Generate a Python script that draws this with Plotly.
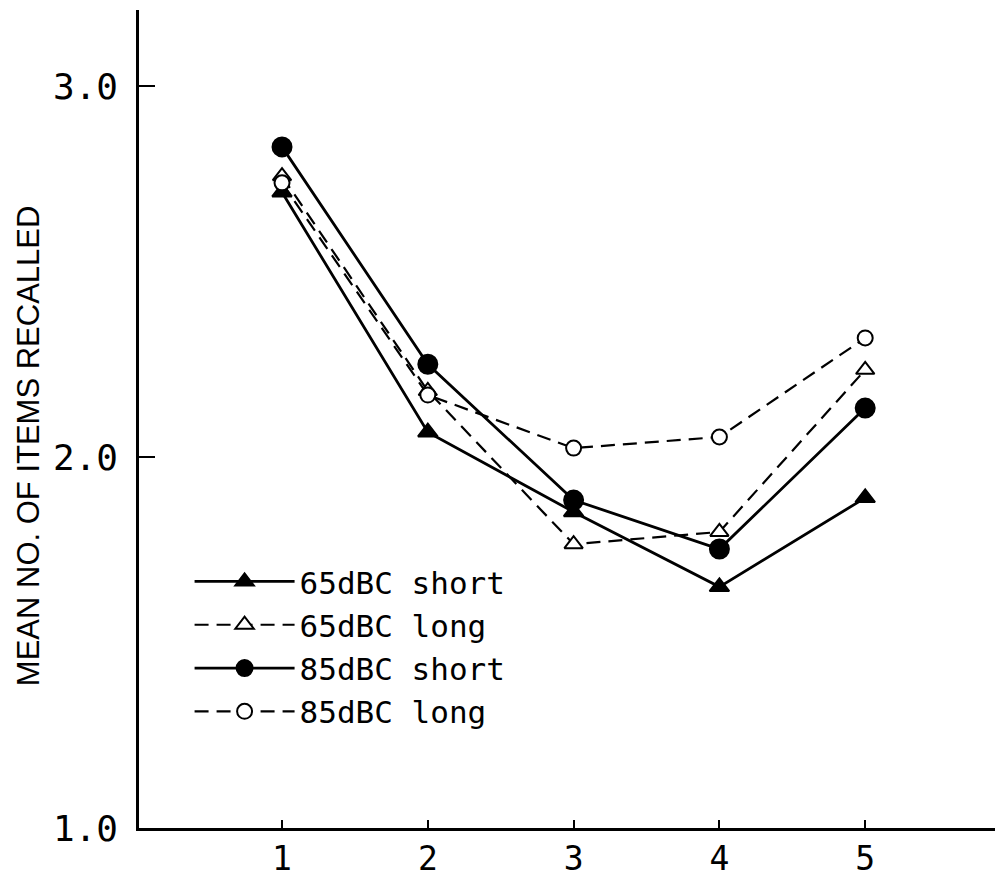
import plotly.graph_objects as go

x_vals = [1, 2, 3, 4, 5]
s65_short = [2.714, 2.067, 1.852, 1.650, 1.890]
s65_long = [2.757, 2.178, 1.765, 1.798, 2.235]
s85_short = [2.836, 2.250, 1.884, 1.752, 2.132]
s85_long = [2.739, 2.167, 2.024, 2.054, 2.321]
names = ["65dBC short", "65dBC long", "85dBC short", "85dBC long"]
y_ticks = [1.0, 2.0, 3.0]
y_tick_text = ["1.0", "2.0", "3.0"]
y_title = "MEAN NO. OF ITEMS RECALLED"

fig = go.Figure()
styles = [
    (s65_short, "solid", "triangle-up", 17, 2.8, "black"),
    (s65_long, "14px,8px", "triangle-up", 16, 2.2, "white"),
    (s85_short, "solid", "circle", 19, 2.8, "black"),
    (s85_long, "14px,8px", "circle", 15, 2.2, "white"),
]
for (vals, dash, sym, ms, lw, fill), nm in zip(styles, names):
    fig.add_trace(go.Scatter(
        x=x_vals, y=vals, name=nm, mode="lines+markers",
        line=dict(color="black", width=lw, dash=dash),
        marker=dict(symbol=sym, size=ms, color=fill,
                    line=dict(color="black", width=2)),
    ))

fig.update_layout(
    width=1003, height=882,
    margin=dict(l=131, r=0, t=2, b=62, autoexpand=False),
    paper_bgcolor="white", plot_bgcolor="white",
    font=dict(family="DejaVu Sans Mono", color="black", size=31),
    legend=dict(x=0.058, y=0.334, xanchor="left", yanchor="top",
                bgcolor="rgba(0,0,0,0)", font=dict(size=31),
                itemwidth=100, tracegroupgap=0),
    showlegend=True,
    annotations=[dict(
        text=y_title, xref="paper", yref="paper", x=-0.1273, y=0.468,
        xanchor="center", yanchor="middle", textangle=-90, showarrow=False,
        font=dict(family="Liberation Sans", size=31, color="black"),
    )],
)
fig.update_xaxes(
    range=[0.019, 6.0], tickvals=x_vals, ticktext=[str(v) for v in x_vals],
    showline=True, linecolor="black", linewidth=2.5, ticks="inside",
    ticklen=8, tickwidth=2, tickcolor="black", showgrid=False, zeroline=False,
    tickfont=dict(size=33, family="DejaVu Sans Mono"), ticklabelstandoff=0,
)
fig.update_yaxes(
    range=[1.0, 3.205], tickvals=y_ticks, ticktext=y_tick_text,
    showline=True, linecolor="black", linewidth=2.5, ticks="inside",
    ticklen=16, tickwidth=2, tickcolor="black", showgrid=False, zeroline=False,
    tickfont=dict(size=36, family="DejaVu Sans Mono"), ticklabelstandoff=11,
)

fig.write_html("out.html")
